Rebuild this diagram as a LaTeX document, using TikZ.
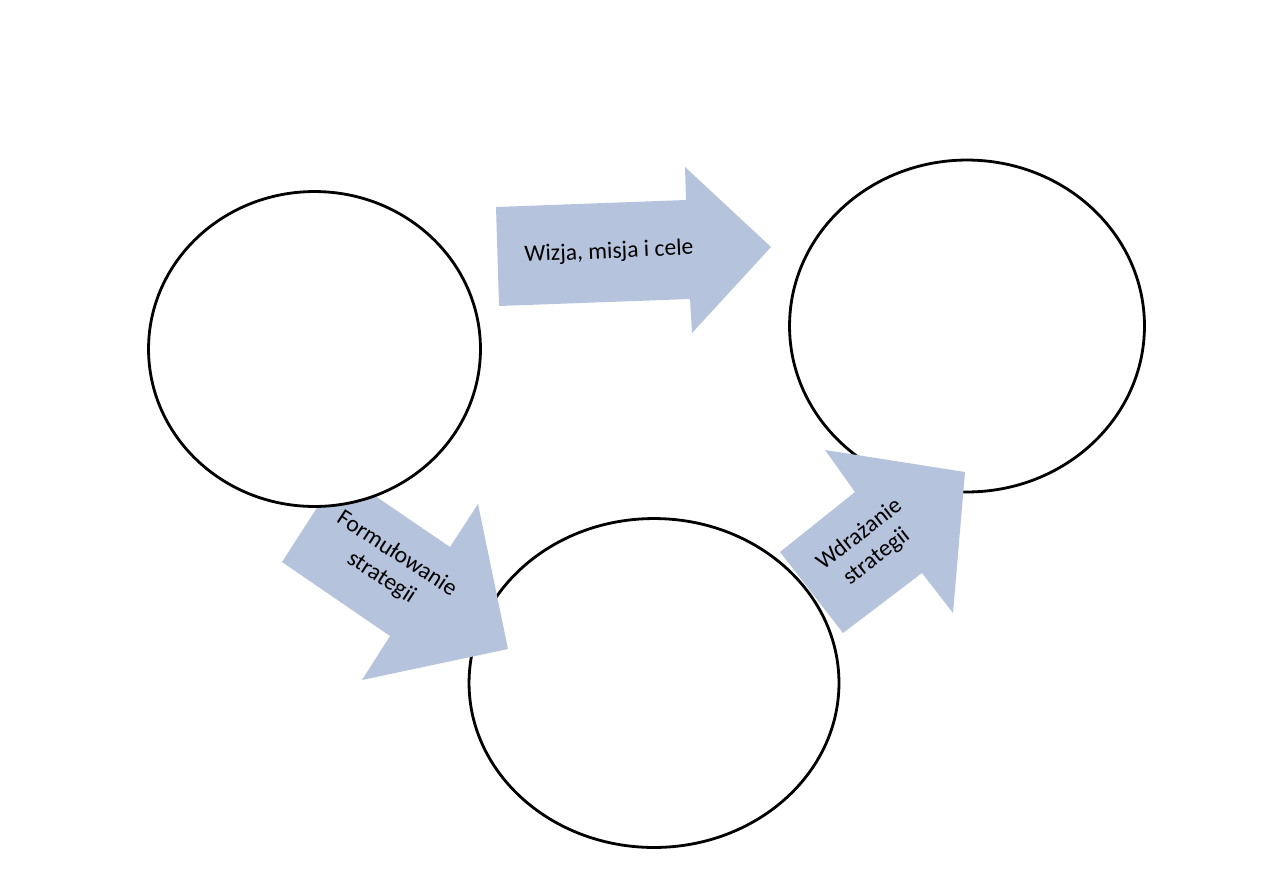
\documentclass[tikz,border=0pt]{standalone}
\usepackage{fontspec}
\setmainfont{Carlito}
\usetikzlibrary{shapes.geometric}
\definecolor{strzalka}{RGB}{181, 195, 220}

\begin{document}
\begin{tikzpicture}[x=0.02cm, y=-0.02cm,
        kolo/.style={ellipse, draw=black, fill=white, line width=1.6pt, inner sep=0pt},
        strz/.style={fill=strzalka, draw=none},
        opis/.style={align=center, inner sep=0pt, font=\fontsize{13.4}{16}\selectfont}
    ]
        \useasboundingbox (0,0) rectangle (1263,893);

        % Kola (dolne i prawe pod strzalkami)
        \node[kolo, minimum width=7.40cm, minimum height=6.58cm] (dol) at (654,683) {};
        \node[kolo, minimum width=7.10cm, minimum height=6.64cm] (prawe) at (967,326) {};

        % Strzalki
        \fill[strz] (496,207) -- (686,200) -- (685,167) -- (771,247) -- (692,333) -- (690,299) -- (499,306) -- cycle;
        \fill[strz] (282,562) -- (340,472) -- (450,547) -- (478,504) -- (508,649) -- (362,680) -- (390,636) -- cycle;
        \fill[strz] (780,552) -- (855,492) -- (825,450) -- (965,472) -- (953,613) -- (922,573) -- (843,633) -- cycle;
        \node[opis, rotate=2.5] (wizja) at (609,252) {Wizja, misja i cele};
        \node[opis, rotate=-33] (formul) at (389,566) {Formułowanie\\strategii};
        \node[opis, rotate=38] (wdraz) at (868,546) {Wdrażanie\\strategii};

        % Kolo lewe (nad strzalka)
        \node[kolo, minimum width=6.64cm, minimum height=6.30cm] (lewe) at (314.5,349) {};
    \end{tikzpicture}
\end{document}
